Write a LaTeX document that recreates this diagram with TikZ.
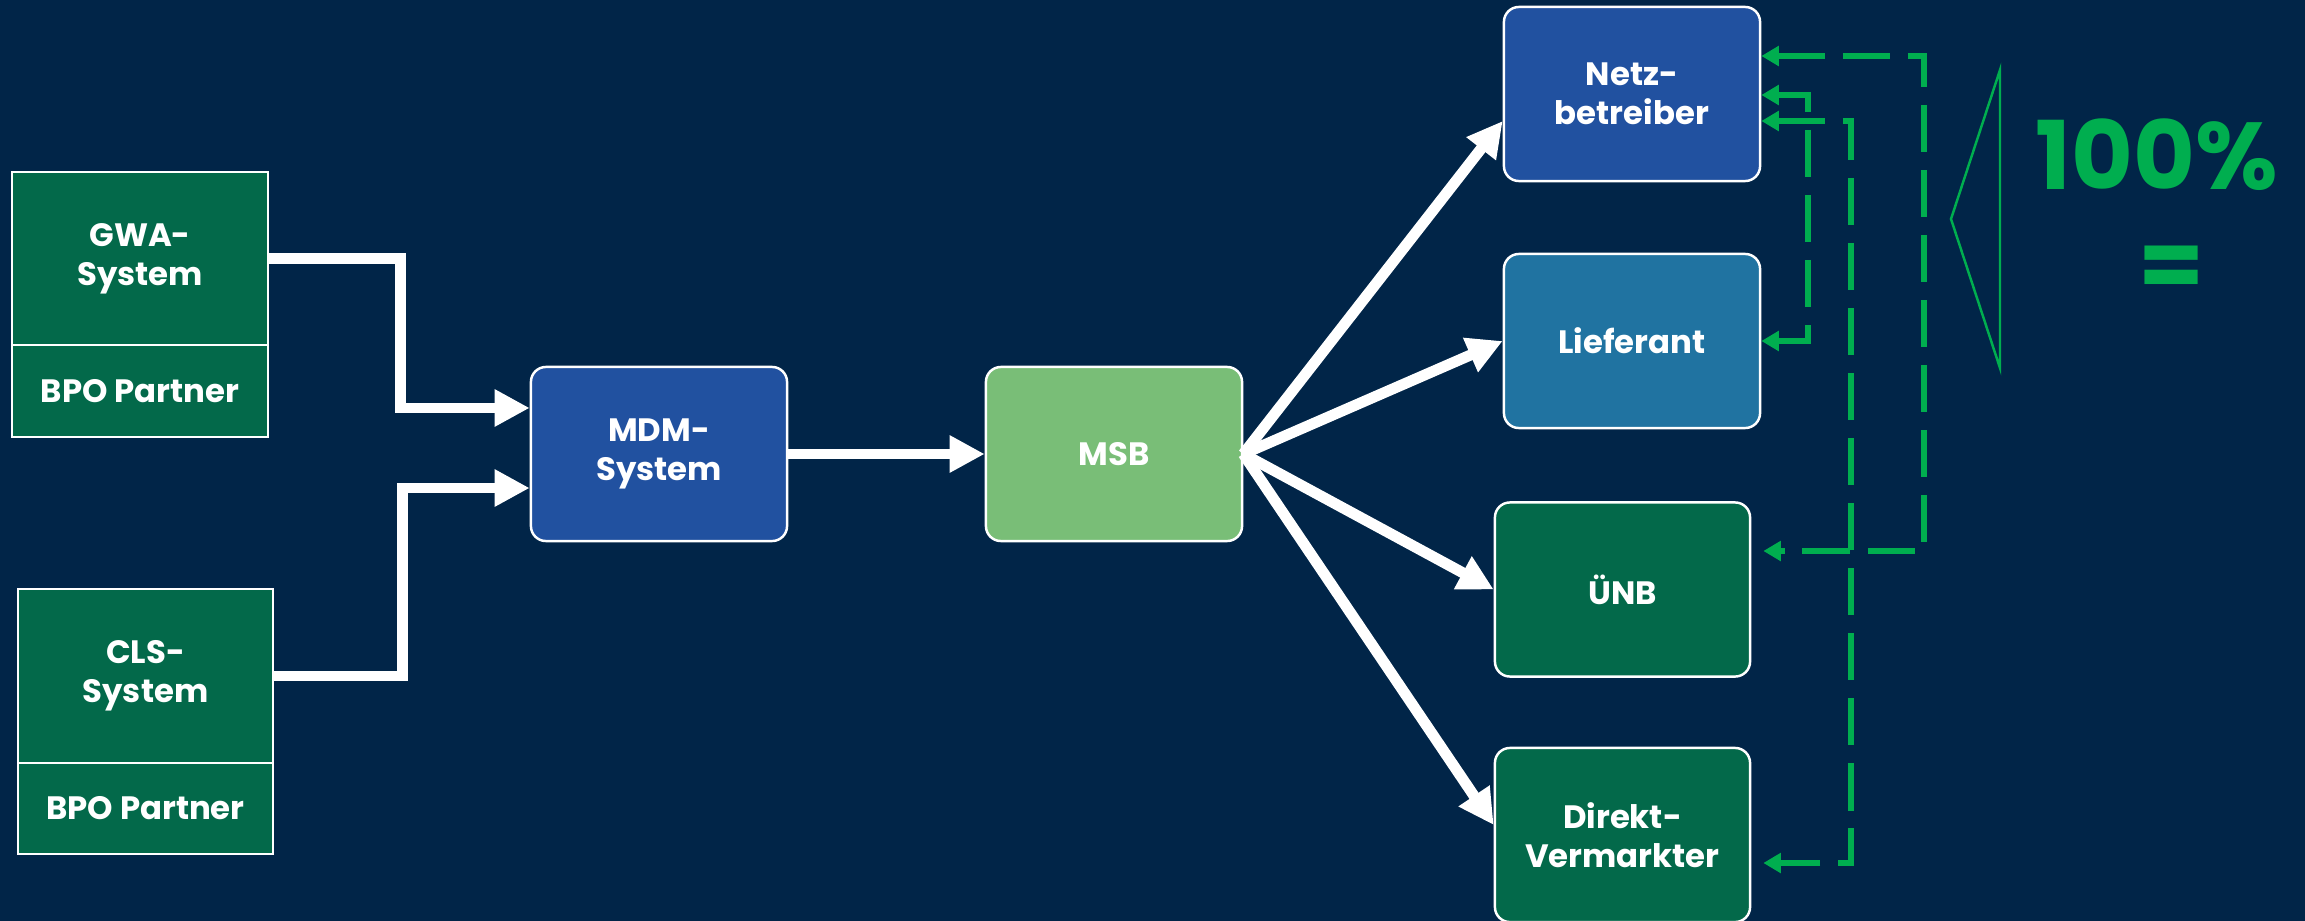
\documentclass[tikz,border=0pt]{standalone}
\usepackage{fontspec}
\setmainfont{Poppins}
\usetikzlibrary{positioning,arrows.meta}
\definecolor{navy}{HTML}{012548}
\definecolor{dgreen}{HTML}{03694A}
\definecolor{mblue}{HTML}{2151A0}
\definecolor{lblue}{HTML}{2073A1}
\definecolor{lgreen}{HTML}{79BE77}
\definecolor{fgreen}{HTML}{00AE4F}
\tikzset{sys/.style={rectangle,draw=white,line width=0.7pt,fill=dgreen,text=white,
	   font=\bfseries\fontsize{9.2}{11.1}\selectfont,align=center,
	   minimum width=2.56cm,inner sep=0pt,outer sep=0pt},
	 box/.style={sys,rounded corners=0.15cm,minimum height=1.74cm,outer sep=0.5\pgflinewidth},
	 flow/.style={draw=white,line width=3.1pt,-{Triangle[length=10pt,width=10pt]}},
	 fb/.style={draw=fgreen,line width=1.8pt,dash pattern=on 13.4pt off 5.1pt,
	   {Triangle[length=5pt,width=5.5pt]}-{Triangle[length=5pt,width=5.5pt]}},
	 big/.style={text=fgreen,font=\bfseries\fontsize{27}{30}\selectfont}
	 }
\begin{document}
\begin{tikzpicture}[x=0.01cm,y=-0.01cm] % Messwerte: GWA/CLS -> MDM -> MSB -> Marktrollen
	\fill[navy] (0,0) rectangle (2305,921);
	\useasboundingbox (0,0) rectangle (2305,921);
	\node[sys,minimum height=1.73cm] (gwa) at (140,258.5) {GWA-\\System};
	\node[sys,minimum height=0.92cm] (bpo1) [below=0pt of gwa] {BPO Partner};
	\node[sys,minimum height=1.74cm,minimum width=2.55cm] (cls) at (145.5,676) {CLS-\\System};
	\node[sys,minimum height=0.91cm,minimum width=2.55cm] (bpo2) [below=0pt of cls] {BPO Partner};
	\node[box,fill=mblue] (mdm) at (659,454) {MDM-\\System};
	\node[box,fill=lgreen] (msb) at (1114,454) {MSB};
	\node[box,fill=mblue] (netz) at (1632,94) {Netz-\\betreiber};
	\node[box,fill=lblue] (lief) at (1632,341) {Lieferant};
	\node[box,minimum width=2.55cm] (unb) at (1622.5,589.5) {ÜNB};
	\node[box,minimum width=2.55cm] (dv) at (1622.5,835) {Direkt-\\Vermarkter};
	\draw[flow] (gwa.east) -- ++(132,0) |- ([yshift=0.46cm]mdm.west);
	\draw[flow] (cls.east) -- ++(129,0) |- ([yshift=-0.34cm]mdm.west);
	\draw[flow] (mdm) -- (msb);
	\draw[flow] (msb.east) -- ([yshift=-0.27cm]netz.west);
	\draw[flow] (msb.east) -- (lief.west);
	\draw[flow] (msb.east) -- (unb.west);
	\draw[flow] (msb.east) -- ([yshift=0.1cm]dv.west);
	% Rueckmeldungen
	\draw[fb,shorten >=0.12cm] (netz.east |- 0,56) -- (1924,56) |- (unb.east |- 0,551);
	\draw[fb] (netz.east |- 0,95) -- (1808,95) |- (lief.east);
	\draw[fb,shorten >=0.12cm] (netz.east |- 0,121) -- (1851,121) |- (dv.east |- 0,863);
	\draw[fgreen,line width=0.7pt] (1951,219) -- (2000,70) -- (2000,368) -- cycle;
	\node[big] (pct) at (2157,155) {100\%};
	\node[big] (eq) at (2172,272) {=};
\end{tikzpicture}
\end{document}
